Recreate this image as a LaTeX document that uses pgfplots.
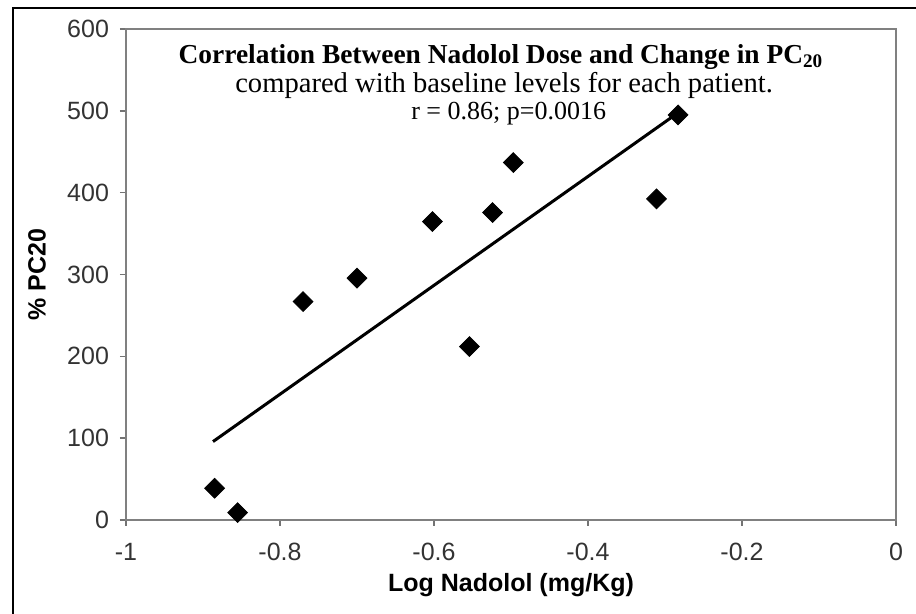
\documentclass[border=0pt]{standalone}
\usepackage{fontspec}
\setmainfont{Liberation Sans}
\newfontfamily\titlefont{Liberation Serif}
\usepackage{pgfplots}
\pgfplotsset{compat=1.18}
\begin{document}
\begin{tikzpicture}
\useasboundingbox (-63pt,-47pt) rectangle (395pt,260pt);
\draw[line width=1pt] (-56.5pt,-60pt) -- (-56.5pt,256pt) -- (400pt,256pt);
\begin{axis}[
  at={(0pt,0pt)}, anchor=south west,
  scale only axis, width=385pt, height=245.5pt,
  xmin=-1, xmax=0, ymin=0, ymax=600,
  xtick={-1,-0.8,-0.6,-0.4,-0.2,0},
  ytick={0,100,200,300,400,500,600},
  axis line style={black!50, line width=0.9pt},
  every tick/.style={black!55, line width=0.8pt},
  tick align=outside, tick pos=left, major tick length=3pt,
  /pgf/number format/assume math mode=true,
  ticklabel style={font=\fontsize{12.5}{14}\selectfont, text=black!80},
  xticklabel style={yshift=-5pt},
  yticklabel style={xshift=-2pt},
  xlabel={\bfseries Log Nadolol (mg/Kg)},
  ylabel={\bfseries \% PC20},
  label style={font=\fontsize{12.5}{14}\selectfont},
  xlabel style={at={(axis description cs:0.5,0)}, anchor=center, yshift=-32.5pt},
  ylabel style={at={(axis description cs:-0.1156,0.5)}, anchor=center},
  clip=false,
]
\addplot[only marks, mark=square*, mark size=3.5pt, mark options={rotate=45, fill=black, draw=black}]
  coordinates {
  (-0.885,38.8) (-0.855,9) (-0.770,266.9) (-0.700,295.5) (-0.602,364.7)
  (-0.554,211.9) (-0.524,375.7) (-0.497,436.8) (-0.311,392.4) (-0.283,495)
  };
\addplot[black, line width=1.5pt] coordinates {(-0.887,95.8) (-0.290,493)};
\draw[black!50, line width=0.9pt] (axis cs:-1,600) -- (axis cs:0,600) -- (axis cs:0,0);
\node[font=\titlefont\bfseries\fontsize{13.7}{15}\selectfont, anchor=base] at (axis cs:-0.513,558) {Correlation Between Nadolol Dose and Change in PC\textsubscript{20}};
\node[font=\titlefont\fontsize{14.3}{16}\selectfont, anchor=base] at (axis cs:-0.509,523) {compared with baseline levels for each patient.};
\node[font=\titlefont\fontsize{13}{15}\selectfont, anchor=base] at (axis cs:-0.503,489) {r = 0.86; p=0.0016};
\end{axis}
\end{tikzpicture}
\end{document}
